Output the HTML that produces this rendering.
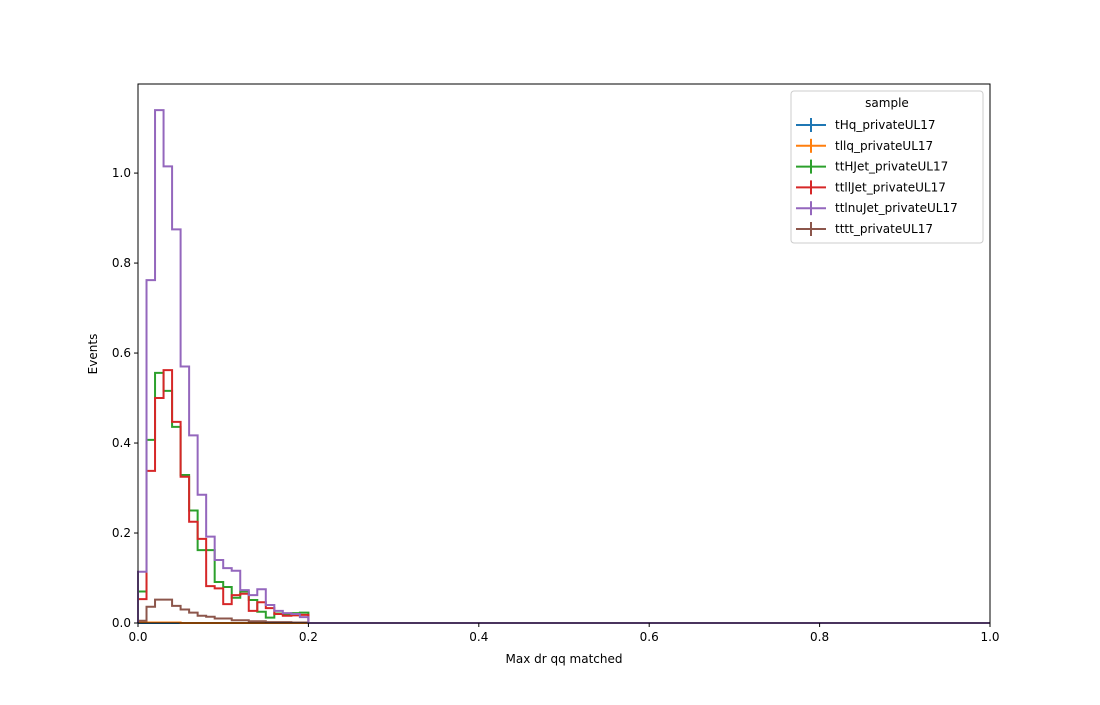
<!DOCTYPE html>
<html><head><meta charset="utf-8"><style>body{margin:0;background:#fff}text{font-family:"DejaVu Sans","Liberation Sans",sans-serif}</style></head>
<body>
<svg id="chart" width="1100" height="700" xmlns="http://www.w3.org/2000/svg">
<rect width="1100" height="700" fill="#fff"/>
<g id="marks"></g>
<g id="axes"></g>
</svg>
<script>
const binEdgesStart = 0, binWidth = 0.01, nBins = 100;
const seriesNames = ["tHq_privateUL17","tllq_privateUL17","ttHJet_privateUL17","ttllJet_privateUL17","ttlnuJet_privateUL17","tttt_privateUL17"];
const seriesColors = ["#1f77b4","#ff7f0e","#2ca02c","#d62728","#9467bd","#8c564b"];
const tHq = [0,0,0,0,0,0,0,0,0,0,0,0,0,0,0,0,0,0,0,0];
const tllq = [0.001,0.001,0.001,0.001,0.001,0,0,0,0,0,0,0,0,0,0,0,0,0,0,0];
const ttH = [0.07,0.407,0.556,0.516,0.436,0.329,0.25,0.162,0.162,0.091,0.08,0.056,0.07,0.051,0.025,0.012,0.021,0.018,0.022,0.023];
const ttll = [0.053,0.338,0.5,0.562,0.447,0.325,0.225,0.187,0.082,0.077,0.042,0.062,0.065,0.027,0.046,0.033,0.02,0.016,0.017,0.018];
const ttlnu = [0.114,0.762,1.14,1.015,0.875,0.57,0.417,0.285,0.192,0.14,0.122,0.116,0.073,0.062,0.075,0.04,0.027,0.022,0.02,0.013];
const tttt = [0.005,0.036,0.052,0.052,0.038,0.03,0.023,0.016,0.014,0.01,0.01,0.006,0.006,0.004,0.004,0.002,0.002,0.002,0.001,0.001];
const xTicks = [0,0.2,0.4,0.6,0.8,1.0];
const xTickLabels = ["0.0","0.2","0.4","0.6","0.8","1.0"];
const yTicks = [0,0.2,0.4,0.6,0.8,1.0];
const yTickLabels = ["0.0","0.2","0.4","0.6","0.8","1.0"];
const allSeries = [tHq,tllq,ttH,ttll,ttlnu,tttt];

const L=138,R=990,T=84,B=623, yMax=1.198;
const xs=v=>L+(v-0)/(1-0)*(R-L);
const ys=v=>B-v/yMax*(B-T);
const NS="http://www.w3.org/2000/svg";
function mk(tag,attrs,parent){const e=document.createElementNS(NS,tag);for(const k in attrs)e.setAttribute(k,attrs[k]);parent.appendChild(e);return e;}
const marks=document.getElementById('marks'), axes=document.getElementById('axes');
[0,1,5,2,3,4].forEach(si=>{
  const vals=allSeries[si];
  let d="M"+xs(0)+","+ys(0);
  for(let i=0;i<nBins;i++){const v=i<vals.length?vals[i]:0;const x0=xs(binEdgesStart+i*binWidth),x1=xs(binEdgesStart+(i+1)*binWidth);d+=" L"+x0+","+ys(v)+" L"+x1+","+ys(v);}
  d+=" L"+xs(1)+","+ys(0);
  const p=mk('path',{d:d,fill:'none',stroke:seriesColors[si],'stroke-width':2},marks);
  
  
});
const frame=mk('rect',{x:L,y:T,width:R-L,height:B-T,fill:'none',stroke:'#000','stroke-width':1},axes);

xTicks.forEach((t,i)=>{const x=xs(t);mk('line',{x1:x,x2:x,y1:B,y2:B+4,stroke:'#000'},axes);
  const tx=mk('text',{x:x,y:B+18,'font-size':12,'text-anchor':'middle'},axes);tx.textContent=xTickLabels[i];
  });
yTicks.forEach((t,i)=>{const y=ys(t);mk('line',{x1:L-4,x2:L,y1:y,y2:y,stroke:'#000'},axes);
  const tx=mk('text',{x:L-7,y:y+4,'font-size':12,'text-anchor':'end'},axes);tx.textContent=yTickLabels[i];
  });
const xl=mk('text',{x:(L+R)/2,y:663,'font-size':12,'text-anchor':'middle'},axes);xl.textContent="Max dr qq matched";

const yl=mk('text',{x:0,y:0,'font-size':12,'text-anchor':'middle',transform:'translate(97,354) rotate(-90)'},axes);yl.textContent="Events";

// legend
const lg=mk('g',{},axes);
mk('rect',{x:791,y:91,width:192,height:152,rx:3,fill:'#fff',stroke:'#ccc'},lg);
const lt=mk('text',{x:887,y:107,'font-size':12,'text-anchor':'middle'},lg);lt.textContent="sample";
seriesNames.forEach((n,i)=>{const y=125+i*20.8;
  const g=mk('g',{},lg);
  mk('line',{x1:796,x2:826,y1:y,y2:y,stroke:seriesColors[i],'stroke-width':2},g);
  mk('line',{x1:811,x2:811,y1:y-7,y2:y+7,stroke:seriesColors[i],'stroke-width':2},g);
  const t=mk('text',{x:835,y:y+4,'font-size':12},g);t.textContent=n;});
</script>
</body></html>
